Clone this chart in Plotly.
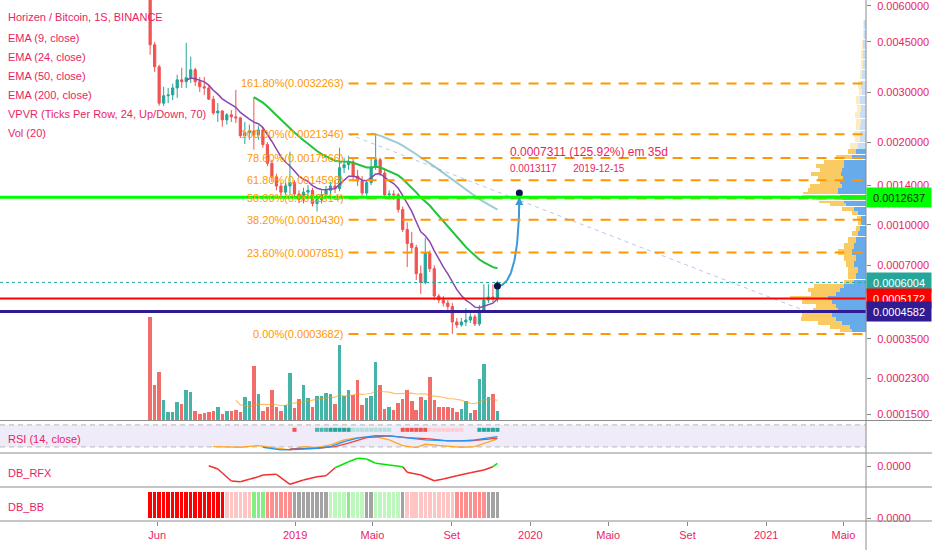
import numpy as np
import pandas as pd
import plotly.graph_objects as go

# TradingView log scale: y = log10(price + offset)
LOG_OFFSET = 0.0001
PINK = "#e91e63"
TEAL = "#26a69a"
RED = "#ef5350"
FONT = "Liberation Sans"

# weekly ZEN/BTC candles (1S = 1 semana)
first_week = "2018-05-21"
open_ = [0.00738, 0.00440, 0.00369, 0.00275, 0.00292, 0.00294, 0.00311, 0.00332, 0.00327, 0.00338,
         0.00360, 0.00327, 0.00314, 0.00311, 0.00284, 0.00254, 0.00258, 0.00240, 0.00250, 0.00246,
         0.00244, 0.00211, 0.00216, 0.00219, 0.00212, 0.00221, 0.00196, 0.00168, 0.00150, 0.00139,
         0.00132, 0.00139, 0.00143, 0.00130, 0.00124, 0.00132, 0.00134, 0.00120, 0.00124, 0.00129,
         0.00134, 0.00139, 0.00136, 0.00162, 0.00166, 0.00170, 0.00151, 0.00145, 0.00131, 0.00143,
         0.00163, 0.00173, 0.00155, 0.00129, 0.00130, 0.00129, 0.00114, 0.00096, 0.00085, 0.00082,
         0.00065, 0.00060, 0.00078, 0.00068, 0.00053, 0.00051, 0.000496, 0.00048, 0.000414, 0.000402,
         0.000414, 0.000422, 0.000435, 0.000406, 0.000464, 0.00051, 0.000525, 0.000515]
high_ = [0.00767, 0.00450, 0.00375, 0.00314, 0.00311, 0.00322, 0.00346, 0.00366, 0.00447, 0.00400,
         0.00366, 0.00340, 0.00340, 0.00316, 0.00292, 0.00275, 0.00260, 0.00254, 0.00260, 0.00306,
         0.00246, 0.00236, 0.00231, 0.00289, 0.00229, 0.00225, 0.00200, 0.00173, 0.00154, 0.00143,
         0.00143, 0.00185, 0.00146, 0.00134, 0.00137, 0.00140, 0.00137, 0.00129, 0.00134, 0.00139,
         0.00144, 0.00146, 0.00191, 0.00176, 0.00179, 0.00176, 0.00159, 0.00151, 0.00146, 0.00176,
         0.0021346, 0.00176, 0.00159, 0.00134, 0.00134, 0.00131, 0.00117, 0.00102, 0.00094, 0.00084,
         0.00070, 0.00089, 0.00080, 0.00070, 0.00054, 0.00053, 0.00051, 0.000496, 0.00043, 0.00043,
         0.000473, 0.00045, 0.000446, 0.000487, 0.00059, 0.00059, 0.00059, 0.00061]
low_ = [0.00406, 0.00354, 0.00269, 0.00269, 0.00275, 0.00282, 0.00287, 0.00311, 0.00311, 0.00324,
        0.00316, 0.00301, 0.00294, 0.00282, 0.00250, 0.00236, 0.00227, 0.00231, 0.00236, 0.00234,
        0.00207, 0.00197, 0.00204, 0.00188, 0.00204, 0.00191, 0.00164, 0.00144, 0.00134, 0.00128,
        0.00129, 0.00130, 0.00126, 0.00120, 0.00120, 0.00126, 0.00117, 0.00112, 0.00120, 0.00125,
        0.00130, 0.00131, 0.00133, 0.00155, 0.00159, 0.00146, 0.00139, 0.00128, 0.00128, 0.00140,
        0.00159, 0.00151, 0.00127, 0.00124, 0.00124, 0.00111, 0.00094, 0.00069, 0.00079, 0.000614,
        0.00054, 0.00059, 0.00066, 0.00051, 0.000496, 0.00048, 0.000464, 0.0003682, 0.00039, 0.000395,
        0.000398, 0.00041, 0.000398, 0.000398, 0.000455, 0.000496, 0.0005, 0.0005]
close_ = [0.00440, 0.00369, 0.00275, 0.00292, 0.00294, 0.00311, 0.00332, 0.00327, 0.00338, 0.00360,
          0.00327, 0.00314, 0.00311, 0.00284, 0.00254, 0.00258, 0.00240, 0.00250, 0.00246, 0.00244,
          0.00211, 0.00216, 0.00219, 0.00212, 0.00221, 0.00196, 0.00168, 0.00150, 0.00139, 0.00132,
          0.00139, 0.00143, 0.00130, 0.00124, 0.00132, 0.00134, 0.00120, 0.00124, 0.00129, 0.00134,
          0.00139, 0.00136, 0.00162, 0.00166, 0.00170, 0.00151, 0.00145, 0.00131, 0.00143, 0.00163,
          0.00173, 0.00155, 0.00129, 0.00130, 0.00129, 0.00114, 0.00096, 0.00085, 0.00082, 0.00065,
          0.00060, 0.00078, 0.00068, 0.00053, 0.00051, 0.000496, 0.00048, 0.000414, 0.000402, 0.000414,
          0.000422, 0.000435, 0.000406, 0.000464, 0.00051, 0.000525, 0.000515, 0.0006004]
volume = [310, 105, 145, 60, 23, 23, 55, 48, 90, 84,
          27, 17, 20, 23, 27, 38, 17, 27, 27, 30,
          23, 68, 56, 162, 77, 27, 38, 90, 38, 27,
          44, 142, 37, 63, 104, 67, 40, 71, 71, 80,
          78, 49, 225, 73, 90, 75, 120, 45, 65, 72,
          174, 104, 33, 38, 30, 52, 63, 91, 57, 30,
          70, 60, 129, 60, 38, 38, 38, 36, 23, 34,
          57, 20, 30, 123, 168, 70, 77, 27]

# fibonacci retracement
fib_start = "2019-03-25"
fib_ratio = ["161.80%", "100.00%", "78.60%", "61.80%", "50.00%", "38.20%", "23.60%", "0.00%"]
fib_price = [0.0032263, 0.0021346, 0.0017566, 0.0014598, 0.0012514, 0.0010430, 0.0007851, 0.0003682]

# horizontal levels
hline_price = [0.0012637, 0.0005172, 0.0004582]
hline_color = ["#00ff00", "#ff0000", "#311b92"]
hline_width = [3, 2, 3]
last_price = 0.0006004

# dashed trend line
trend_dates = ["2019-03-25", "2021-02-22"]
trend_price = [0.0021346, 0.00047]

# projection arrow
proj_start_price = 0.0005806
proj_end_price = 0.0013117
proj_end_date = "2019-12-15"

# right axis ticks
price_ticks = [0.006, 0.0045, 0.003, 0.002, 0.0014, 0.001, 0.0007, 0.00035, 0.00023, 0.00015]

# volume profile (visible range)
vp_price = [0.00516, 0.00476, 0.00440, 0.00406, 0.00375, 0.00346, 0.00319, 0.00301, 0.00282, 0.00264,
            0.00250, 0.00236, 0.00225, 0.00214, 0.00204, 0.00194, 0.001845, 0.00177, 0.00170, 0.001644,
            0.001589, 0.001538, 0.001487, 0.001438, 0.001391, 0.001344, 0.001311, 0.001279, 0.001246, 0.001215,
            0.001185, 0.001145, 0.001107, 0.001061, 0.001018, 0.000972, 0.000927, 0.000876, 0.000832, 0.00079,
            0.000748, 0.00071, 0.000672, 0.000637, 0.000603, 0.000582, 0.00056, 0.00054, 0.00052, 0.0005,
            0.000482, 0.000464, 0.000443, 0.000426, 0.00041, 0.000395, 0.00038]
vp_up = [2, 2, 3, 3, 3, 4, 5, 4, 6, 5, 6, 5, 6, 6, 6, 8, 10, 14, 22, 22,
         24, 25, 23, 26, 24, 28, 28, 26, 24, 22, 20, 12, 8, 5, 5, 6, 8, 10, 12, 14,
         10, 12, 8, 10, 12, 22, 26, 30, 38, 34, 30, 28, 34, 30, 24, 16, 14]
vp_down = [1, 1, 1, 2, 2, 2, 3, 3, 4, 4, 5, 5, 4, 6, 5, 8, 8, 16, 20, 28,
           22, 30, 25, 20, 32, 30, 35, 38, 30, 25, 16, 12, 6, 4, 3, 4, 6, 8, 10, 14,
           12, 8, 10, 8, 10, 30, 32, 25, 38, 30, 20, 25, 30, 35, 24, 20, 12]
vp_value_area_top = 0.0019

# RSI pane lines (week index, value)
rsi_idx = [14, 20, 24, 28, 31, 34, 37, 40, 43, 46, 50, 53, 56, 59, 61, 65, 69, 72, 74, 77]
rsi_val = [30.6, 29.4, 32.4, 27.6, 24.5, 30.6, 28.8, 33.6, 42.7, 47.0, 48.7, 42.7, 32.4, 28.8, 34.8, 31.8, 29.4, 30.6, 36.7, 44.5]
blue_idx = [25, 29, 33, 37, 40, 43, 46, 50, 53, 57, 61, 65, 69, 72, 75, 77]
blue_val = [29.4, 24.5, 25.8, 27.6, 30.6, 39.7, 45.8, 50.5, 50.0, 45.8, 42.7, 41.5, 40.9, 42.7, 45.8, 48.7]
red_idx = [31, 37, 41, 44, 48, 53, 57, 62, 66, 71, 75, 77]
red_val = [26.4, 27.6, 30.6, 36.7, 47.0, 50.0, 47.0, 44.5, 40.9, 40.9, 44.0, 45.8]
hist_idx = [32, 37, 38, 39, 40, 41, 42, 43, 44, 45, 46, 47, 48, 49, 50, 51, 52, 53,
            56, 57, 58, 59, 60, 61, 62, 63, 64, 65, 66, 67, 68, 69, 73, 74, 75, 76, 77]
hist_color = ["#ef5350", "#4db6ac", "#4db6ac", "#4db6ac", "#26a69a", "#26a69a", "#26a69a", "#26a69a", "#26a69a",
              "#b2dfdb", "#b2dfdb", "#b2dfdb", "#b2dfdb", "#b2dfdb", "#b2dfdb", "#b2dfdb", "#b2dfdb", "#b2dfdb",
              "#ef5350", "#ef5350", "#ef5350", "#ef5350", "#ef5350", "#ef5350", "#ffcdd2", "#ffcdd2", "#ffcdd2",
              "#ffcdd2", "#ffcdd2", "#ffcdd2", "#ffcdd2", "#ffcdd2", "#26a69a", "#26a69a", "#26a69a", "#26a69a", "#26a69a"]
hist_level = 61

# DB_RFX
rfx_idx = [13, 15, 18, 20, 22, 24, 25, 28, 31, 34, 37, 39, 41, 44, 46, 48, 50, 53, 56, 57,
           60, 63, 65, 68, 71, 74, 76, 77]
rfx_val = [0.3e-6, -3e-6, -15e-6, -15.7e-6, -13.3e-6, -10.7e-6, -9e-6, -8.3e-6, -18.3e-6, -14e-6,
           -10.7e-6, -9.7e-6, -1.7e-6, 4.3e-6, 7.7e-6, 7e-6, 2.7e-6, 1e-6, -0.7e-6, -6.3e-6,
           -9e-6, -14.7e-6, -13e-6, -9.7e-6, -6.7e-6, -4e-6, -0.7e-6, 2.7e-6]
rfx_state = "rrrrrrrrrrrrr" + "gggggg" + "rrrrrrrr" + "g"

# DB_BB state per week
bb_state = "RRRRRRRRRRRRRRRRRppppppGGGmmmmmmnnnnnnnnggggGgggnnggggggnpppppppppppmmmmmmmnnn"
bb_colors = {"R": "#ff0000", "p": "#ffc4c4", "G": "#80f080", "m": "#ff8f8f", "n": "#a3a3a3", "g": "#bdf7bd"}

legend_lines = ["Horizen / Bitcoin, 1S, BINANCE", "EMA (9, close)", "EMA (24, close)", "EMA (50, close)",
                "EMA (200, close)", "VPVR (Ticks Per Row, 24, Up/Down, 70)", "Vol (20)"]
x_tick_dates = ["2018-06-01", "2019-01-01", "2019-05-01", "2019-09-01", "2020-01-01",
                "2020-05-01", "2020-09-01", "2021-01-01", "2021-05-01"]
x_tick_text = ["Jun", "2019", "Maio", "Set", "2020", "Maio", "Set", "2021", "Maio"]
x_range = ["2017-09-30", "2021-06-05"]


def ty(p):
    return np.log10(np.asarray(p, dtype=float) + LOG_OFFSET)


def ema(values, n):
    out = [np.nan] * len(values)
    if len(values) < n:
        return out
    prev = sum(values[:n]) / n
    out[n - 1] = prev
    k = 2 / (n + 1)
    for i in range(n, len(values)):
        prev = values[i] * k + prev * (1 - k)
        out[i] = prev
    return out


dates = pd.date_range(first_week, periods=len(close_), freq="7D")
up = [c >= o for o, c in zip(open_, close_)]

# plot area is 866 x 521 px; pane borders in px from top
PLOT_H = 521.0
def dom(top_px, bot_px):
    return [(PLOT_H - bot_px) / PLOT_H, (PLOT_H - top_px) / PLOT_H]

fig = go.Figure()

# volume (base axis so it sits under the candles)
fig.add_trace(go.Bar(
    x=dates, y=volume, xaxis="x", yaxis="y",
    marker=dict(color=["rgba(38,166,154,0.85)" if u else "rgba(239,83,80,0.85)" for u in up], line_width=0),
    hoverinfo="skip"
))
fig.add_trace(go.Scatter(
    x=dates, y=pd.Series(volume).rolling(20).mean(), xaxis="x", yaxis="y",
    mode="lines", line=dict(color="rgba(255,152,0,0.6)", width=1.2), hoverinfo="skip"
))

# candles
fig.add_trace(go.Candlestick(
    x=dates, open=ty(open_), high=ty(high_), low=ty(low_), close=ty(close_),
    xaxis="x", yaxis="y2",
    increasing=dict(line=dict(color=TEAL, width=1), fillcolor=TEAL),
    decreasing=dict(line=dict(color=RED, width=1), fillcolor=RED),
    hoverinfo="skip"
))

for n, color, w in [(9, "#8e44ad", 1.5), (24, "#1fc43a", 2), (50, "#9ccbd1", 2)]:
    fig.add_trace(go.Scatter(
        x=dates, y=ty(ema(close_, n)), xaxis="x", yaxis="y2",
        mode="lines", line=dict(color=color, width=w), hoverinfo="skip"
    ))

# projection curve
x0 = dates[-1].value / 1e6
x1 = pd.Timestamp(proj_end_date).value / 1e6
y0 = float(ty(proj_start_price))
y1 = float(ty(proj_end_price))
t = np.linspace(0, 1, 40)
cx, cy = x1, y0
bx = (1 - t) ** 2 * x0 + 2 * (1 - t) * t * cx + t ** 2 * x1
by = (1 - t) ** 2 * y0 + 2 * (1 - t) * t * cy + t ** 2 * y1
fig.add_trace(go.Scatter(
    x=pd.to_datetime(bx, unit="ms"), y=by, xaxis="x", yaxis="y2",
    mode="lines", line=dict(color="#3a9ad9", width=2), hoverinfo="skip"
))
fig.add_trace(go.Scatter(
    x=[dates[-1], pd.Timestamp(proj_end_date)], y=[y0, y1], xaxis="x", yaxis="y2",
    mode="markers", marker=dict(color="#131050", size=7), hoverinfo="skip"
))

# volume profile
vp_y = ty(vp_price)
vp_w = np.abs(np.gradient(vp_y)) * 0.9
in_va = [p < vp_value_area_top for p in vp_price]
fig.add_trace(go.Bar(
    y=vp_y, x=vp_up, width=vp_w, orientation="h", xaxis="x2", yaxis="y2",
    marker=dict(color=["rgba(66,150,230,0.8)" if v else "rgba(66,150,230,0.3)" for v in in_va], line_width=0),
    hoverinfo="skip"
))
fig.add_trace(go.Bar(
    y=vp_y, x=vp_down, width=vp_w, orientation="h", xaxis="x2", yaxis="y2",
    marker=dict(color=["rgba(250,190,60,0.8)" if v else "rgba(250,190,60,0.3)" for v in in_va], line_width=0),
    hoverinfo="skip"
))

# RSI pane
for idx, vals, color in [(rsi_idx, rsi_val, "#ffa726"), (red_idx, red_val, "#f44336"), (blue_idx, blue_val, "#2196f3")]:
    fig.add_trace(go.Scatter(
        x=dates[idx], y=vals, xaxis="x", yaxis="y3",
        mode="lines", line=dict(color=color, width=1.3), hoverinfo="skip"
    ))
fig.add_trace(go.Scatter(
    x=dates[hist_idx], y=[hist_level] * len(hist_idx), xaxis="x", yaxis="y3",
    mode="markers", marker=dict(symbol="square", size=4, color=hist_color), hoverinfo="skip"
))

# DB_RFX line, coloured by state of each segment end
rfx_dates = dates[rfx_idx]
for i in range(1, len(rfx_idx)):
    color = "#00e600" if rfx_state[i] == "g" else "#f03030"
    fig.add_trace(go.Scatter(
        x=rfx_dates[i - 1:i + 1], y=rfx_val[i - 1:i + 1], xaxis="x", yaxis="y4",
        mode="lines", line=dict(color=color, width=1.5), hoverinfo="skip"
    ))

# DB_BB columns
fig.add_trace(go.Bar(
    x=dates, y=[1] * len(dates), xaxis="x", yaxis="y5",
    marker=dict(color=[bb_colors[s] for s in bb_state], line_width=0), hoverinfo="skip"
))

shapes = []
annotations = []

# fib levels
for ratio, p in zip(fib_ratio, fib_price):
    shapes.append(dict(type="line", xref="x", yref="y2", x0=fib_start, x1=x_range[1], y0=ty(p), y1=ty(p),
                       line=dict(color="#ff9800", width=2, dash="10px,8px"), layer="above"))
    annotations.append(dict(xref="x", yref="y2", x=fib_start, y=float(ty(p)), xanchor="right", yanchor="middle",
                            xshift=-3, text=f"{ratio}({p:.7f})", showarrow=False,
                            font=dict(color="#ff9800", size=11, family=FONT)))

# trend line
shapes.append(dict(type="line", xref="x", yref="y2", x0=trend_dates[0], x1=trend_dates[1],
                   y0=ty(trend_price[0]), y1=ty(trend_price[1]),
                   line=dict(color="rgba(130,150,210,0.55)", width=1, dash="4px,4px"), layer="above"))

# horizontal levels
shapes.append(dict(type="line", xref="paper", yref="y2", x0=0, x1=1, y0=ty(last_price), y1=ty(last_price),
                   line=dict(color=TEAL, width=1, dash="dot"), layer="above"))
for p, c, w in zip(hline_price, hline_color, hline_width):
    shapes.append(dict(type="line", xref="paper", yref="y2", x0=0, x1=1, y0=ty(p), y1=ty(p),
                       line=dict(color=c, width=w), layer="above"))

# RSI band
shapes.append(dict(type="rect", xref="paper", yref="y3", x0=0, x1=1, y0=30, y1=70,
                   fillcolor="rgba(126,87,194,0.12)", line_width=0, layer="below"))
for lvl in (30, 70):
    shapes.append(dict(type="line", xref="paper", yref="y3", x0=0, x1=1, y0=lvl, y1=lvl,
                       line=dict(color="#b8b8b8", width=1, dash="5px,4px"), layer="below"))

# pane separators and right axis border
sep_color = "#8c8c8c"
for px in (420.5, 453, 487, 521):
    yy = (PLOT_H - px) / PLOT_H
    shapes.append(dict(type="line", xref="paper", yref="paper", x0=0, x1=932 / 866, y0=yy, y1=yy,
                       line=dict(color=sep_color, width=1)))
shapes.append(dict(type="line", xref="paper", yref="paper", x0=1, x1=1, y0=-29 / PLOT_H, y1=1,
                   line=dict(color=sep_color, width=1)))

# legend texts
for i, txt in enumerate(legend_lines):
    ypx = 17 if i == 0 else 38 + 19 * (i - 1)
    annotations.append(dict(xref="paper", yref="paper", x=6 / 866, y=1 - ypx / PLOT_H, xanchor="left",
                            yanchor="middle", text=txt, showarrow=False,
                            font=dict(color=PINK, size=11, family=FONT)))
for txt, ypx in [("RSI (14, close)", 439), ("DB_RFX", 473), ("DB_BB", 507)]:
    annotations.append(dict(xref="paper", yref="paper", x=6 / 866, y=1 - ypx / PLOT_H, xanchor="left",
                            yanchor="middle", text=txt, showarrow=False,
                            font=dict(color=PINK, size=11, family=FONT)))

# projection texts and arrow head
gain = proj_end_price - proj_start_price
annotations.append(dict(xref="x", yref="y2", x=proj_end_date, y=y1, xanchor="left", yanchor="middle",
                        xshift=-11, yshift=41, showarrow=False,
                        text=f"{gain:.7f} ({gain / proj_start_price * 100:.2f}%) em 35d",
                        font=dict(color=PINK, size=12, family=FONT)))
annotations.append(dict(xref="x", yref="y2", x=proj_end_date, y=y1, xanchor="left", yanchor="middle",
                        xshift=-11, yshift=24, showarrow=False,
                        text=f"{proj_end_price:.7f}&nbsp;&nbsp;&nbsp;&nbsp;&nbsp;&nbsp;{proj_end_date}",
                        font=dict(color=PINK, size=10, family=FONT)))
annotations.append(dict(xref="x", yref="y2", x=proj_end_date, y=y1, ax=0, ay=16, text="",
                        showarrow=True, arrowhead=2, arrowsize=1, arrowwidth=1.6, arrowcolor="#3a9ad9", standoff=4))

# price boxes on the axis
for p, bg, fg in [(hline_price[0], "#00ff00", "#1a1a1a"), (last_price, TEAL, "white"),
                  (hline_price[1], "#ff0000", "white"), (hline_price[2], "#311b92", "white")]:
    annotations.append(dict(xref="paper", yref="y2", x=1, y=float(ty(p)), xanchor="left", yanchor="middle",
                            text=f"{p:.7f}", showarrow=False, bgcolor=bg, width=62, height=17, borderpad=1,
                            font=dict(color=fg, size=11, family=FONT)))

fig.update_layout(
    width=932, height=550,
    margin=dict(l=0, r=66, t=0, b=29),
    paper_bgcolor="white", plot_bgcolor="white",
    showlegend=False, barmode="stack", bargap=0.22,
    font=dict(family=FONT, size=11, color=PINK),
    shapes=shapes, annotations=annotations,
    xaxis=dict(type="date", range=x_range, anchor="y5", tickvals=x_tick_dates, ticktext=x_tick_text,
               ticks="outside", ticklen=4, tickcolor="#888", showgrid=False, zeroline=False, showline=False,
               rangeslider=dict(visible=False), tickfont=dict(color=PINK, size=11)),
    xaxis2=dict(overlaying="x", range=[866, 0], visible=False),
    yaxis=dict(domain=dom(0, 420), range=[0, 310 * 420 / 103], visible=False, fixedrange=True),
    yaxis2=dict(overlaying="y", side="right", anchor="x",
                range=[float(ty(0.0001386)), float(ty(0.00629))],
                tickvals=ty(price_ticks), ticktext=[f"{p:.7f}" for p in price_ticks],
                ticks="outside", ticklen=4, tickcolor="#888", ticklabelstandoff=4, ticklabeloverflow="allow",
                showgrid=False, zeroline=False, showline=False, tickfont=dict(color=PINK, size=11)),
    yaxis3=dict(domain=dom(421, 453), range=[19, 77], visible=False),
    yaxis4=dict(domain=dom(453, 487), anchor="x", side="right", range=[-21e-6, 13e-6],
                tickvals=[0], ticktext=["0.0000"], ticks="outside", ticklen=4, tickcolor="#888",
                ticklabelstandoff=4, showgrid=False, zeroline=False, tickfont=dict(color=PINK, size=11)),
    yaxis5=dict(domain=dom(487, 521), anchor="x", side="right", range=[-0.115, 1.19],
                tickvals=[0], ticktext=["0.0000"], ticks="outside", ticklen=4, tickcolor="#888",
                ticklabelstandoff=4, ticklabeloverflow="allow",
                showgrid=False, zeroline=False, tickfont=dict(color=PINK, size=11)),
)

# the page's default body margin would push the 932x550 figure off the window
fig.write_html("out.html", config={"displayModeBar": False},
               post_script="document.body.style.margin='0';")
